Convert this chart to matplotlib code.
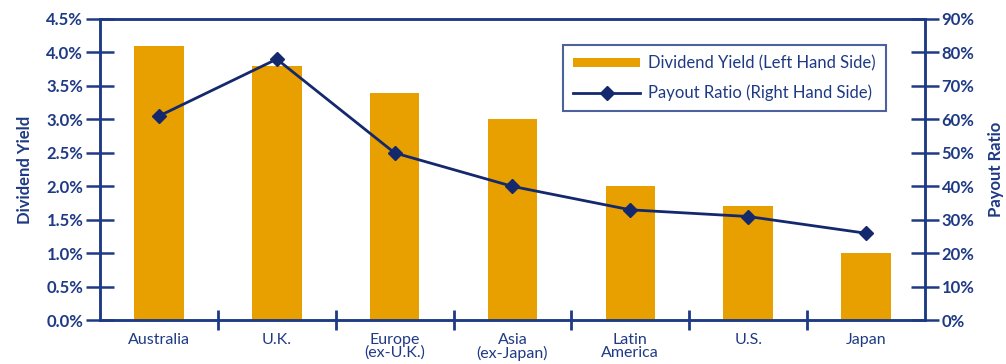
from matplotlib import pyplot as plt
import numpy as np

regions = ['Australia', 'U.K.', 'Europe\n(ex-U.K.)', 'Asia\n(ex-Japan)',
           'Latin\nAmerica', 'U.S.', 'Japan']
dividend_yield = [4.1, 3.8, 3.4, 3.0, 2.0, 1.7, 1.0]
payout_ratio = [61, 78, 50, 40, 33, 31, 26]

navy = '#1f3a85'
line_navy = '#14286e'
orange = '#e89f00'

plt.rcParams['font.family'] = ['Lato', 'DejaVu Sans']

fig = plt.figure(figsize=(10.06, 3.64), dpi=100)
ax = fig.add_axes([0.0994, 0.12, 0.82, 0.828])
x = np.arange(len(regions))

bars = ax.bar(x, dividend_yield, width=0.42, color=orange, zorder=2,
              label='Dividend Yield (Left Hand Side)')
ax.set_xlim(-0.5, len(regions) - 0.5)
ax.set_ylim(0, 4.5)
ax.set_yticks(np.arange(0, 4.51, 0.5))
ax.set_yticklabels(['%.1f%%' % v for v in np.arange(0, 4.51, 0.5)],
                   fontweight='bold', color=navy, fontsize=12)
ax.set_xticks(x)
ax.set_xticklabels(regions, color=navy, fontsize=11.5, linespacing=0.9)
ax.tick_params(axis='x', length=0, pad=9)
ax.set_xticks(np.arange(0.5, len(regions) - 1, 1), minor=True)
ax.tick_params(axis='x', which='minor', direction='inout', length=14,
               width=2, color=navy)
ax.tick_params(axis='y', direction='inout', length=20, width=1.8, color=navy, pad=2)
ax.set_ylabel('Dividend Yield', fontweight='bold', color=navy, fontsize=12, labelpad=10)

ax2 = ax.twinx()
line, = ax2.plot(x, payout_ratio, color=line_navy, lw=2, marker='D',
                 markersize=7, zorder=3, label='Payout Ratio (Right Hand Side)')
ax2.set_ylim(0, 90)
ax2.set_yticks(np.arange(0, 91, 10))
ax2.set_yticklabels(['%d%%' % v for v in np.arange(0, 91, 10)],
                    fontweight='bold', color=navy, fontsize=12)
ax2.tick_params(axis='y', direction='inout', length=20, width=1.8, color=navy, pad=2)
ax2.set_ylabel('Payout Ratio', fontweight='bold', color=navy, fontsize=12,
               labelpad=10, rotation=90)

for a in (ax, ax2):
    for side in ('left', 'right', 'bottom', 'top'):
        a.spines[side].set_color(navy)
        a.spines[side].set_linewidth(1.8)

leg = ax2.legend([bars, line], [bars.get_label(), line.get_label()],
                 loc='upper right', bbox_to_anchor=(0.963, 0.94),
                 fancybox=False, frameon=True, fontsize=12,
                 handlelength=4.0, handleheight=0.45, borderpad=0.6,
                 labelspacing=0.8, handletextpad=0.5)
leg.get_frame().set_edgecolor(navy)
leg.get_frame().set_linewidth(1.5)
for t in leg.get_texts():
    t.set_color(navy)

fig.savefig('out.png', dpi=100)
